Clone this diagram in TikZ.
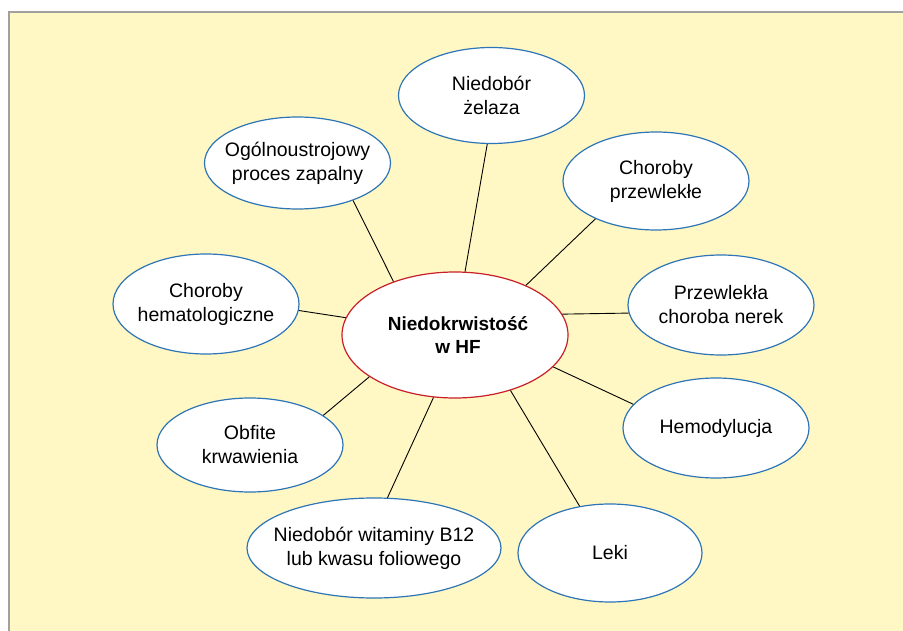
\documentclass[tikz,border=0pt]{standalone}
\usepackage{fontspec}
\setmainfont{Liberation Sans}
\usetikzlibrary{shapes.geometric}
\definecolor{bg}{RGB}{255,248,196}
\definecolor{eblue}{RGB}{46,117,182}
\definecolor{ered}{RGB}{200,30,40}
\definecolor{framegray}{RGB}{160,160,160}
\begin{document}
\begin{tikzpicture}[x=1pt,y=-1pt,
  ell/.style={ellipse, draw=eblue, fill=white, line width=1.2pt, minimum width=186pt, minimum height=96pt, inner sep=0pt},
  txt/.style={align=center, font=\fontsize{19.5}{24}\selectfont, inner sep=0pt},
  link/.style={draw=black, line width=0.9pt}]
\useasboundingbox (0,0) rectangle (903,631);
\fill[bg] (9,12) rectangle (903,631);
\draw[framegray, line width=1.5pt] (9,631) -- (9,12) -- (903,12);

% outer ellipses
\node[ell] (zel) at (491.5,95.5) {};
\node[ell, minimum height=92pt] (ogol) at (297.5,163) {};
\node[ell, minimum height=98pt] (przew) at (656,181) {};
\node[ell, minimum height=100pt] (hema) at (206,304) {};
\node[ell, minimum height=100pt] (nerek) at (721,305) {};
\node[ell, minimum height=100pt] (hemo) at (716,428) {};
\node[ell, minimum height=94pt] (obf) at (250,445) {};
\node[ell, minimum width=254pt, minimum height=100pt] (b12) at (374,548) {};
\node[ell, minimum width=184pt, minimum height=98pt] (leki) at (610,553) {};
% center
\node[ellipse, draw=ered, fill=white, line width=1.2pt, minimum width=226pt, minimum height=126pt, inner sep=0pt] (c) at (455,335) {};

% texts
\node[txt] (zelT) at (zel) {Niedobór\\żelaza};
\node[txt] (ogolT) at (ogol) {Ogólnoustrojowy\\proces zapalny};
\node[txt] (przewT) at (przew) {Choroby\\przewlekłe};
\node[txt] (hemaT) at (hema) {Choroby\\hematologiczne};
\node[txt] (nerekT) at (nerek) {Przewlekła\\choroba nerek};
\node[txt] (hemoT) at (hemo) {Hemodylucja};
\node[txt] (obfT) at (obf) {Obfite\\krwawienia};
\node[txt] (b12T) at (b12) {Niedobór witaminy B12\\lub kwasu foliowego};
\node[txt] (lekiT) at (leki) {Leki};
\node[txt, font=\bfseries\fontsize{19}{23}\selectfont] (cT) at (458,335) {Niedokrwistość\\w HF};

% connectors
\draw[link] (c.81) -- (zel.265);
\draw[link] (c.139) -- (ogol.326);
\draw[link] (c.35.5) -- (przew.212.6);
\draw[link] (c.171) -- (hema.356);
\draw[link] (c.11) -- (nerek.185);
\draw[link] (c.342.6) -- (hemo.164);
\draw[link] (c.206) -- (obf.22.5);
\draw[link] (c.251) -- (b12.75);
\draw[link] (c.315.5) -- (leki.123);
\end{tikzpicture}
\end{document}
